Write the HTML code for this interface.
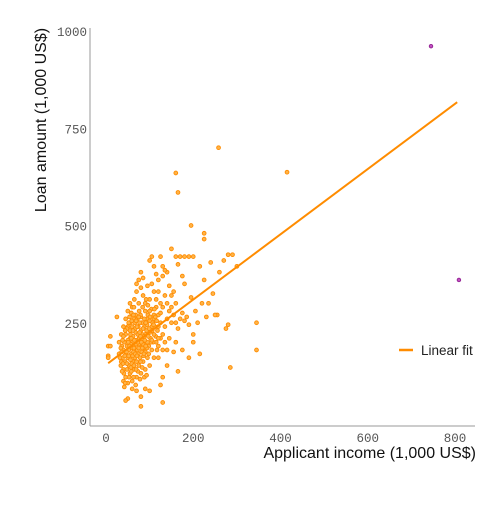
<!DOCTYPE html>
<html><head><meta charset="utf-8"><style>
body{margin:0;background:#fff}
svg text{font-family:"Liberation Mono","DejaVu Sans Mono",monospace}
</style></head><body>
<svg width="504" height="504" xmlns="http://www.w3.org/2000/svg">
<g id="axes"></g>
<g id="pts"></g>
<text x="-120" y="46" transform="rotate(-90)" text-anchor="middle" font-size="16" fill="#111" style="font-family:'Liberation Sans',sans-serif">Loan amount (1,000 US$)</text>
<text x="476" y="458" text-anchor="end" font-size="16" fill="#111" style="font-family:'Liberation Sans',sans-serif">Applicant income (1,000 US$)</text>
<g>
<line x1="399" y1="350" x2="413" y2="350" stroke="#ff8c00" stroke-width="2.5"/>
<text x="421" y="355" font-size="13.5" fill="#222" style="font-family:'Liberation Sans',sans-serif">Linear fit</text>
</g>
</svg>
<script>
const xTicks=[0,200,400,600,800];
const yTicks=[0,250,500,750,1000];
const fitLine=[[5,146],[805,817]];
const outliers=[[745,961],[809,360]];
const points=[[160,635],[258,700],[415,637],[165,585],[195,500],[225,480],[225,465],[280,425],[290,425],[300,395],[345,250],[345,180],[285,135],[275,235],[280,245],[215,170],[255,270],[210,250],[230,265],[250,270],[180,420],[190,420],[200,420],[160,420],[170,420],[150,440],[165,400],[175,370],[180,350],[195,315],[220,300],[235,300],[245,325],[200,200],[190,160],[165,125],[140,140],[130,110],[125,90],[120,160],[100,75],[90,80],[80,60],[70,75],[60,80],[50,55],[45,50],[25,265],[10,215],[5,190],[5,165],[5,160],[10,190],[80,35],[130,45],[175,180],[200,220],[205,280],[185,265],[165,235],[150,290],[160,300],[155,330],[145,345],[140,380],[130,370],[120,360],[110,330],[115,310],[100,310],[90,300],[105,420],[100,410],[125,420],[130,395],[135,385],[240,405],[260,380],[270,410],[225,360],[215,395],[170,260],[180,255],[190,245],[175,275],[140,260],[135,240],[150,250],[145,210],[160,200],[155,175],[140,180],[135,200],[130,220],[125,250],[120,270],[115,290],[110,260],[105,240],[100,225],[95,260],[90,280],[85,320],[80,340],[75,300],[70,330],[65,310],[60,290],[55,300],[50,280],[45,260],[40,240],[35,220],[30,200],[30,170],[35,150],[40,130],[45,110],[50,95],[55,120],[60,100],[65,130],[70,110],[75,140],[80,120],[85,150],[90,130],[95,160],[100,140],[105,180],[110,160],[115,200],[120,190],[125,210],[130,180],[60,200],[62,215],[65,190],[68,225],[70,205],[72,180],[74,240],[76,210],[78,195],[80,230],[82,250],[84,205],[86,185],[88,240],[90,220],[92,200],[94,245],[96,270],[98,190],[100,255],[102,210],[104,285],[106,230],[108,200],[110,270],[112,240],[114,215],[116,255],[118,230],[120,210],[55,210],[52,180],[50,160],[48,190],[46,170],[44,150],[42,200],[40,180],[38,160],[36,190],[34,140],[45,220],[50,240],[55,250],[58,170],[62,150],[66,160],[70,150],[74,170],[78,160],[82,175],[86,165],[90,175],[94,185],[98,170],[60,240],[64,260],[68,270],[72,260],[76,280],[80,265],[84,290],[88,260],[92,310],[96,295],[100,280],[55,230],[57,195],[63,175],[67,235],[73,220],[77,250],[83,220],[87,215],[93,230],[97,215],[103,200],[107,250],[113,265],[117,180],[40,100],[42,85],[48,130],[53,140],[58,125],[63,110],[68,90],[73,125],[78,105],[83,135],[88,110],[93,115],[50,205],[54,265],[58,275],[64,290],[70,350],[75,360],[80,380],[85,365],[95,345],[105,350],[110,395],[115,375],[120,330],[125,300],[130,290],[135,320],[140,300],[145,280],[150,320],[155,270],[160,250],[120,240],[125,275],[110,220],[95,200],[85,195],[75,195],[65,205],[60,185],[56,220],[52,250],[48,235],[44,230],[40,215],[38,205],[36,175],[34,185],[32,160],[48,145],[52,165],[56,155],[59,145],[61,165],[64,185],[67,170],[69,195],[71,165],[73,200],[75,185],[77,225],[79,215],[81,200],[85,235],[89,205],[91,250],[71,240],[66,250],[62,230],[58,210],[54,190],[51,200],[47,175],[43,165],[39,145],[41,120],[37,125],[44,95],[53,110],[57,135],[64,140],[69,130],[79,150],[83,185],[87,170],[91,190],[99,235],[101,265],[105,205],[109,245],[111,285],[79,270],[75,265],[69,255],[63,270],[59,255]];
const X=v=>106+v*0.43625, Y=v=>420-v*0.389;
const NS='http://www.w3.org/2000/svg';
const ax=document.getElementById('axes');
function mk(t,a,p){const e=document.createElementNS(NS,t);for(const k in a)e.setAttribute(k,a[k]);p.appendChild(e);return e;}
let l=mk('line',{x1:90,y1:28,x2:90,y2:426,stroke:'#999','stroke-width':1},ax);


l=mk('line',{x1:90,y1:426,x2:475,y2:426,stroke:'#999','stroke-width':1},ax);


xTicks.forEach(v=>{const t=mk('text',{x:X(v),y:442,'text-anchor':'middle','font-size':12.5,fill:'#555'},ax);t.textContent=v;

});
yTicks.forEach(v=>{const t=mk('text',{x:87,y:Y(v)+5,'text-anchor':'end','font-size':12.5,fill:'#555'},ax);t.textContent=v;

});
const g=document.getElementById('pts');
points.forEach(p=>{const c=mk('circle',{cx:X(p[0]),cy:Y(p[1]),r:1.9,fill:'#ffb347',stroke:'#ff8c00','stroke-width':0.9},g);

});
l=mk('line',{x1:X(fitLine[0][0]),y1:Y(fitLine[0][1]),x2:X(fitLine[1][0]),y2:Y(fitLine[1][1]),stroke:'#ff8c00','stroke-width':2},g);


outliers.forEach(p=>{const c=mk('circle',{cx:X(p[0]),cy:Y(p[1]),r:1.8,fill:'#c050c0',stroke:'#8b1a8b','stroke-width':0.8},g);

});
</script>
</body></html>
